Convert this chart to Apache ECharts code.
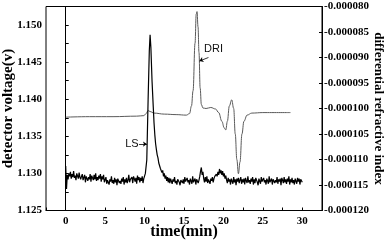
<!DOCTYPE html>
<html>
<head>
<meta charset="utf-8">
<script src="https://cdn.jsdelivr.net/npm/echarts@6/dist/echarts.min.js"></script>
<style>
html, body { margin: 0; padding: 0; background: #fff; }
#chart { width: 388px; height: 240px; }
</style>
</head>
<body>
<div id="chart"></div>
<script>
// LS trace (detector voltage, left axis)
var lsTime = [
  0.0, 0.1, 0.2, 0.3, 0.4, 0.5, 0.6, 0.7, 0.8, 0.9, 1.0, 1.1, 1.2, 1.3, 1.4, 1.5, 1.6, 1.7, 1.8, 1.9,
  2.0, 2.1, 2.2, 2.3, 2.4, 2.5, 2.6, 2.7, 2.8, 2.9, 3.0, 3.1, 3.2, 3.3, 3.4, 3.5, 3.6, 3.7, 3.8, 3.9,
  4.0, 4.1, 4.2, 4.3, 4.4, 4.5, 4.6, 4.7, 4.8, 4.9, 5.0, 5.1, 5.2, 5.3, 5.4, 5.5, 5.6, 5.7, 5.8, 5.9,
  6.0, 6.1, 6.2, 6.3, 6.4, 6.5, 6.6, 6.7, 6.8, 6.9, 7.0, 7.1, 7.2, 7.3, 7.4, 7.5, 7.6, 7.7, 7.8, 7.9,
  8.0, 8.1, 8.2, 8.3, 8.4, 8.5, 8.6, 8.7, 8.8, 8.9, 9.0, 9.1, 9.2, 9.3, 9.4, 9.5, 9.6, 9.7, 9.8, 9.9,
  10.0, 10.1, 10.28, 10.45, 10.6, 10.7, 10.8, 10.95,
  11.1, 11.2, 11.3, 11.4, 11.5, 11.6, 11.7, 11.8, 11.9, 12.0, 12.1, 12.2, 12.3, 12.4, 12.5, 12.6,
  12.7, 12.8, 12.9, 13.0, 13.1, 13.2, 13.3,
  13.4, 13.5, 13.6, 13.7, 13.8, 13.9, 14.0, 14.1, 14.2, 14.3, 14.4, 14.5, 14.6, 14.7, 14.8, 14.9,
  15.0, 15.1, 15.2, 15.3, 15.4, 15.5, 15.6, 15.7, 15.8, 15.9, 16.0, 16.1, 16.2, 16.3, 16.4, 16.5,
  16.6, 16.7, 16.8, 16.9,
  17.0, 17.1, 17.2, 17.3, 17.4, 17.5,
  17.6, 17.7, 17.8, 17.9, 18.0, 18.1, 18.2, 18.3, 18.4, 18.5, 18.6, 18.7, 18.8, 18.9,
  19.0, 19.1, 19.2, 19.3, 19.4, 19.5, 19.6, 19.7, 19.8, 19.9, 20.0, 20.1, 20.2, 20.3, 20.4,
  20.5, 20.6, 20.7, 20.8, 20.9, 21.0, 21.1, 21.2, 21.3, 21.4, 21.5, 21.6, 21.7, 21.8, 21.9, 22.0,
  22.1, 22.2, 22.3, 22.4, 22.5, 22.6, 22.7, 22.8, 22.9, 23.0, 23.1, 23.2, 23.3, 23.4, 23.5, 23.6,
  23.7, 23.8, 23.9, 24.0, 24.1, 24.2, 24.3, 24.4, 24.5, 24.6, 24.7, 24.8, 24.9, 25.0, 25.1, 25.2,
  25.3, 25.4, 25.5, 25.6, 25.7, 25.8, 25.9, 26.0, 26.1, 26.2, 26.3, 26.4, 26.5, 26.6, 26.7, 26.8,
  26.9, 27.0, 27.1, 27.2, 27.3, 27.4, 27.5, 27.6, 27.7, 27.8, 27.9, 28.0, 28.1, 28.2, 28.3, 28.4,
  28.5, 28.6, 28.7, 28.8, 28.9, 29.0, 29.1, 29.2, 29.3, 29.4, 29.5, 29.6, 29.7, 29.8, 29.9, 30.0
];
var lsVolt = [
  1.1310, 1.1279, 1.1298, 1.1292, 1.1300, 1.1296, 1.1302, 1.1293, 1.1299, 1.1295, 1.1303, 1.1294, 1.1297, 1.1291, 1.1300, 1.1298, 1.1293, 1.1301, 1.1295, 1.1292,
  1.1296, 1.1299, 1.1291, 1.1293, 1.1298, 1.1288, 1.1296, 1.1297, 1.1290, 1.1295, 1.1292, 1.1299, 1.1289, 1.1297, 1.1294, 1.1291, 1.1298, 1.1292, 1.1300, 1.1290,
  1.1295, 1.1291, 1.1297, 1.1293, 1.1299, 1.1289, 1.1296, 1.1292, 1.1298, 1.1288, 1.1288, 1.1295, 1.1286, 1.1291, 1.1293, 1.1285, 1.1292, 1.1289, 1.1296, 1.1287,
  1.1291, 1.1286, 1.1294, 1.1288, 1.1292, 1.1284, 1.1293, 1.1295, 1.1287, 1.1290, 1.1286, 1.1293, 1.1289, 1.1295, 1.1285, 1.1292, 1.1288, 1.1294, 1.1287, 1.1291,
  1.1298, 1.1288, 1.1292, 1.1290, 1.1295, 1.1287, 1.1296, 1.1293, 1.1289, 1.1294, 1.1286, 1.1297, 1.1291, 1.1295, 1.1288, 1.1294, 1.1290, 1.1296, 1.1287, 1.1293,
  1.1294, 1.1300, 1.1318, 1.1400, 1.1465, 1.1487, 1.1470, 1.1424,
  1.1390, 1.1368, 1.1352, 1.1340, 1.1332, 1.1325, 1.1321, 1.1314, 1.1315, 1.1307, 1.1309, 1.1301, 1.1304, 1.1296, 1.1300, 1.1293,
  1.1297, 1.1290, 1.1295, 1.1288, 1.1294, 1.1287, 1.1293,
  1.1293, 1.1286, 1.1292, 1.1289, 1.1295, 1.1287, 1.1290, 1.1285, 1.1292, 1.1294, 1.1288, 1.1284, 1.1291, 1.1293, 1.1287, 1.1292,
  1.1286, 1.1295, 1.1289, 1.1287, 1.1294, 1.1288, 1.1291, 1.1285, 1.1293, 1.1290, 1.1286, 1.1296, 1.1288, 1.1289, 1.1293, 1.1285,
  1.1292, 1.1294, 1.1287, 1.1291,
  1.1296, 1.1303, 1.1308, 1.1298, 1.1302, 1.1293,
  1.1288, 1.1295, 1.1289, 1.1296, 1.1287, 1.1292, 1.1294, 1.1286, 1.1293, 1.1290, 1.1295, 1.1288, 1.1293, 1.1296,
  1.1294, 1.1299, 1.1296, 1.1302, 1.1298, 1.1306, 1.1300, 1.1304, 1.1298, 1.1303, 1.1296, 1.1300, 1.1293, 1.1297, 1.1291,
  1.1287, 1.1294, 1.1289, 1.1292, 1.1285, 1.1293, 1.1291, 1.1286, 1.1295, 1.1288, 1.1292, 1.1284, 1.1293, 1.1289, 1.1294, 1.1287,
  1.1291, 1.1295, 1.1286, 1.1292, 1.1288, 1.1293, 1.1285, 1.1294, 1.1290, 1.1287, 1.1296, 1.1288, 1.1291, 1.1286, 1.1293, 1.1289,
  1.1295, 1.1285, 1.1292, 1.1287, 1.1294, 1.1291, 1.1288, 1.1284, 1.1293, 1.1292, 1.1286, 1.1295, 1.1289, 1.1287, 1.1294, 1.1288,
  1.1291, 1.1285, 1.1293, 1.1290, 1.1286, 1.1296, 1.1288, 1.1289, 1.1293, 1.1285, 1.1292, 1.1294, 1.1287, 1.1291, 1.1288, 1.1295,
  1.1286, 1.1292, 1.1289, 1.1293, 1.1284, 1.1294, 1.1291, 1.1287, 1.1295, 1.1288, 1.1292, 1.1286, 1.1293, 1.1289, 1.1296, 1.1285,
  1.1292, 1.1288, 1.1294, 1.1287, 1.1291, 1.1285, 1.1293, 1.1292, 1.1286, 1.1294, 1.1289, 1.1293, 1.1285, 1.1292, 1.1294, 1.1288
];

// DRI trace (differential refractive index, right axis)
var driTime = [
  0, 3, 6, 9, 9.9, 10.2, 10.45, 10.7, 11.2, 12.5, 14, 15.3, 15.7, 15.95, 16.15,
  16.4, 16.55, 16.65, 16.78, 16.9, 17.05, 17.2, 17.4, 17.8, 18.4, 19.0, 19.4,
  19.8, 20.1, 20.3, 20.5, 20.75, 21.05, 21.3, 21.5, 21.7, 21.9, 22.1, 22.35,
  22.6, 23.0, 23.6, 25, 28.5
];
var driIndex = [
  -0.0001017, -0.0001016, -0.0001016, -0.0001015, -0.0001014, -0.0001010, -0.0001004, -0.0001006,
  -0.0001009, -0.0001011, -0.0001012, -0.0001013, -0.0001010, -0.0000995, -0.0000965,
  -0.0000872, -0.0000815, -0.0000810, -0.0000840, -0.0000890, -0.0000960, -0.0000992, -0.0000999,
  -0.0001000, -0.0000998, -0.0001001, -0.0001008, -0.0001025, -0.0001038, -0.0001042, -0.0001025,
  -0.0000995, -0.0000983, -0.0001000, -0.0001050, -0.0001100, -0.0001128, -0.0001105, -0.0001050,
  -0.0001025, -0.0001013, -0.0001009, -0.0001008, -0.0001008
];

var lsData = lsTime.map(function (t, i) { return [t, lsVolt[i]] })
var driData = driTime.map(function (t, i) { return [t, driIndex[i]] })

var serif = 'Liberation Serif'
var labelStyle = { fontFamily: serif, fontWeight: 'bold', fontSize: 11, color: '#000' }

function isStep (v, step) {
  var k = v / step
  return Math.abs(k - Math.round(k)) < 1e-6
}

var chart = echarts.init(document.getElementById('chart'))
var option = {
  animation: false,
  backgroundColor: '#fff',
  grid: {
    left: 46, right: 66, top: 6.5, bottom: 29.5,
    outerBoundsMode: 'none',
    containLabel: false,
    show: true, borderColor: '#000', borderWidth: 1
  },
  xAxis: {
    type: 'value',
    min: -2.5, max: 32.5, interval: 2.5,
    name: 'time(min)',
    nameLocation: 'middle',
    nameGap: 13,
    nameMoveOverlap: false,
    nameTextStyle: { fontFamily: serif, fontWeight: 'bold', fontSize: 16, color: '#000' },
    axisLine: { lineStyle: { color: '#000', width: 1 } },
    axisTick: { inside: true, length: 3, lineStyle: { color: '#000' } },
    axisLabel: Object.assign({
      margin: 5,
      formatter: function (v) { return isStep(v, 5) ? String(Math.round(v)) : '' }
    }, labelStyle),
    splitLine: { show: false }
  },
  yAxis: [
    {
      type: 'value',
      position: 'left',
      min: 1.125, max: 1.1525, interval: 0.0025,
      name: 'detector voltage(v)',
      nameLocation: 'middle',
      nameGap: 30,
      nameMoveOverlap: false,
      nameTextStyle: { fontFamily: serif, fontWeight: 'bold', fontSize: 15, color: '#000' },
      axisLine: { show: true, lineStyle: { color: '#000', width: 1 } },
      axisTick: { show: true, inside: true, length: 3, lineStyle: { color: '#000' } },
      axisLabel: Object.assign({
        margin: 4,
        formatter: function (v) { return isStep(v, 0.005) ? v.toFixed(3) : '' }
      }, labelStyle),
      splitLine: { show: false }
    },
    {
      type: 'value',
      position: 'right',
      min: -0.00012, max: -0.00008, interval: 0.000005,
      name: 'differential refractive index',
      nameLocation: 'middle',
      nameRotate: -90,
      nameGap: 50,
      nameMoveOverlap: false,
      nameTextStyle: { fontFamily: serif, fontWeight: 'bold', fontSize: 13, color: '#000' },
      axisLine: { show: true, lineStyle: { color: '#000', width: 1 } },
      axisTick: { show: true, inside: true, length: 3, lineStyle: { color: '#000' } },
      axisLabel: Object.assign({
        margin: 2,
        formatter: function (v) { return v.toFixed(6) }
      }, labelStyle),
      splitLine: { show: false }
    }
  ],
  series: [
    {
      name: 'DRI',
      type: 'line',
      yAxisIndex: 1,
      data: driData,
      showSymbol: false,
      smooth: 0.4,
      smoothMonotone: 'x',
      lineStyle: { color: '#5a5a5a', width: 1 },
      markLine: {
        silent: true,
        symbol: ['none', 'arrow'],
        symbolSize: 4,
        label: { show: false },
        lineStyle: { color: '#000', width: 0.8, type: 'solid' },
        data: [[{ coord: [18.1, -0.0000900] }, { coord: [16.95, -0.0000907] }]]
      },
      markPoint: {
        silent: true,
        symbol: 'rect',
        symbolSize: 1,
        itemStyle: { color: 'rgba(0,0,0,0)' },
        label: { show: true, position: 'inside', formatter: 'DRI', fontFamily: 'Liberation Sans', fontSize: 11, color: '#111' },
        data: [{ coord: [18.75, -0.0000884] }]
      }
    },
    {
      name: 'LS',
      type: 'line',
      yAxisIndex: 0,
      data: lsData,
      showSymbol: false,
      lineStyle: { color: '#000', width: 1.2 },
      markLine: {
        silent: true,
        symbol: ['none', 'arrow'],
        symbolSize: 4,
        label: { show: false },
        lineStyle: { color: '#000', width: 0.8, type: 'solid' },
        data: [[{ coord: [9.3, 1.13395] }, { coord: [10.3, 1.13395] }]]
      },
      markPoint: {
        silent: true,
        symbol: 'rect',
        symbolSize: 1,
        itemStyle: { color: 'rgba(0,0,0,0)' },
        label: { show: true, position: 'inside', formatter: 'LS', fontFamily: 'Liberation Sans', fontSize: 11, color: '#111' },
        data: [{ coord: [8.4, 1.13395] }]
      }
    }
  ]
}
chart.setOption(option)
</script>
</body>
</html>
